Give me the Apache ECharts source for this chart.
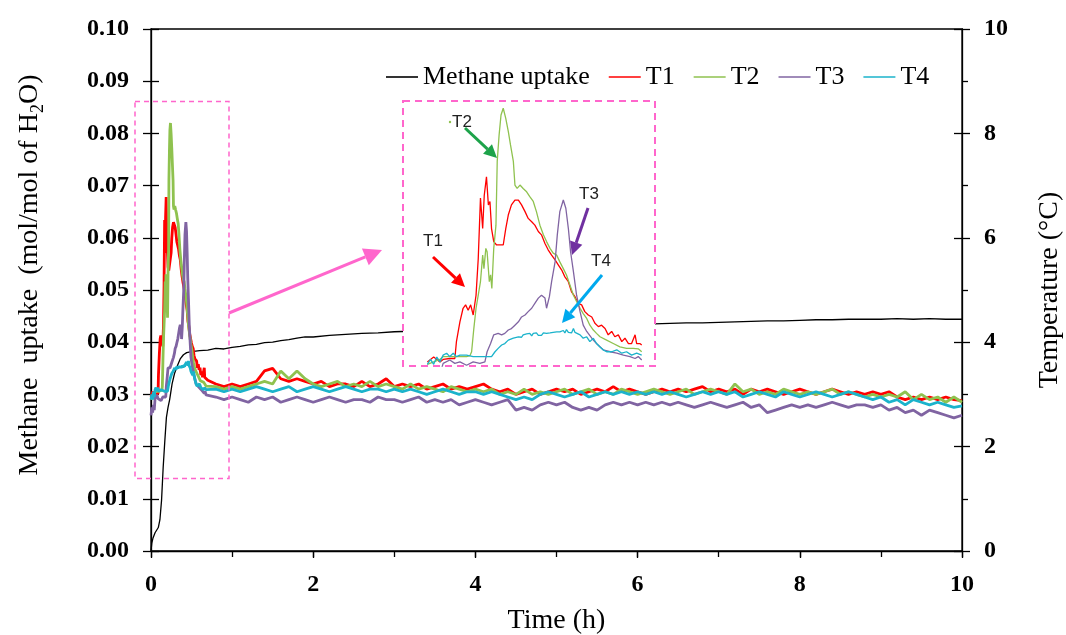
<!DOCTYPE html>
<html>
<head>
<meta charset="utf-8">
<script src="https://cdn.jsdelivr.net/npm/echarts@6/dist/echarts.min.js"></script>
<style>
  html, body { margin: 0; padding: 0; background: #fff; }
  #chart { width: 1066px; height: 635px; }
</style>
</head>
<body>
<div id="chart"></div>
<script>
// methane uptake (left axis, mol/mol of H2O)
const uptakeTime = [0,0.01,0.025,0.05,0.09,0.11,0.13,0.15,0.17,0.19,0.21,0.23,0.26,0.29,0.32,0.36,0.40,0.44,0.5,0.6,
  0.7,0.8,0.9,1.0,1.1,1.2,1.3,1.4,1.5,1.6,1.7,1.8,1.9,2.0,2.2,2.4,2.6,2.8,3.0,3.2,3.6,4.0,4.5,5.0,5.5,
  6.0,6.2,6.4,6.6,6.8,7.0,7.2,7.4,7.6,7.8,8.0,8.2,8.4,8.6,8.8,9.0,9.2,9.4,9.6,9.8,10.0]
const uptake = [0,0.0015,0.0025,0.0035,0.0045,0.006,0.0097,0.016,0.021,0.0256,0.0275,0.029,0.032,0.034,0.0353,0.0368,0.0376,0.038,0.0382,0.0384,
  0.0385,0.0388,0.0387,0.039,0.0392,0.0395,0.0396,0.0399,0.04,0.0403,0.0405,0.0408,0.041,0.041,0.0413,0.0415,0.0417,0.0418,0.042,0.0421,0.0425,0.0428,0.043,0.0432,0.0433,
  0.0435,0.0435,0.0436,0.0437,0.0437,0.0438,0.0439,0.044,0.0441,0.0441,0.0442,0.0443,0.0443,0.0444,0.0444,0.0444,0.0445,0.0444,0.0445,0.0444,0.0444]

// first 0.68 h of the temperatures, [time h, °C] (also drawn in the inset)
const t1Early = [[0,2.95],[0.02,3.05],[0.04,2.95],[0.05,3.0],[0.071,3.02],[0.087,3.02],[0.092,3.37],[0.103,3.78],[0.113,4.06],[0.121,4.13],
  [0.129,4.02],[0.137,4.13],[0.145,3.92],[0.154,4.33],[0.161,5.09],[0.168,6.34],[0.175,5.71],[0.180,6.40],[0.187,6.78],[0.193,6.20],
  [0.198,6.27],[0.203,5.71],[0.210,5.44],[0.219,5.37],[0.229,5.37],[0.240,5.37],[0.248,5.71],[0.256,5.99],[0.266,6.20],[0.277,6.30],
  [0.288,6.30],[0.298,6.20],[0.309,6.06],[0.319,5.92],[0.330,5.85],[0.340,5.78],[0.351,5.65],[0.361,5.58],[0.372,5.40],[0.382,5.27],
  [0.393,5.16],[0.404,5.06],[0.414,4.96],[0.425,4.85],[0.435,4.71],[0.446,4.61],[0.456,4.40],[0.467,4.30],[0.477,4.16],[0.488,4.13],
  [0.498,3.99],[0.509,3.92],[0.520,3.88],[0.530,3.75],[0.541,3.68],[0.551,3.71],[0.562,3.64],[0.572,3.51],[0.583,3.58],[0.593,3.47],
  [0.604,3.51],[0.615,3.37],[0.625,3.44],[0.636,3.33],[0.646,3.33],[0.657,3.51],[0.662,3.33],[0.672,3.33],[0.678,3.30]]
const t2Early = [[0,2.9],[0.02,2.95],[0.04,3.0],[0.05,3.06],[0.10,3.06],[0.124,3.06],[0.135,3.08],[0.140,3.16],[0.147,3.64],[0.154,4.06],
  [0.161,4.33],[0.168,4.61],[0.175,5.16],[0.179,4.88],[0.185,5.30],[0.189,5.23],[0.196,4.61],[0.200,4.75],[0.204,4.47],[0.210,5.30],
  [0.217,5.78],[0.221,7.10],[0.227,7.65],[0.233,8.06],[0.240,8.20],[0.248,7.99],[0.256,7.72],[0.263,7.44],[0.272,7.10],[0.277,6.61],
  [0.284,6.54],[0.293,6.61],[0.303,6.54],[0.314,6.47],[0.324,6.37],[0.335,6.27],[0.345,6.06],[0.356,5.78],[0.367,5.58],[0.377,5.44],
  [0.388,5.30],[0.398,5.20],[0.409,5.16],[0.419,5.02],[0.430,4.88],[0.440,4.75],[0.451,4.54],[0.462,4.33],[0.472,4.20],[0.483,4.06],
  [0.493,3.95],[0.504,3.85],[0.514,3.71],[0.525,3.61],[0.535,3.54],[0.546,3.47],[0.567,3.40],[0.588,3.33],[0.609,3.26],[0.630,3.23],
  [0.651,3.23],[0.667,3.22],[0.678,3.16]]
const t3Early = [[0,2.6],[0.01,2.75],[0.02,2.65],[0.03,2.8],[0.04,2.7],[0.05,2.92],[0.071,2.99],[0.087,2.92],[0.103,2.95],[0.124,2.88],
  [0.145,2.95],[0.166,2.92],[0.182,2.95],[0.189,3.16],[0.200,3.33],[0.210,3.51],[0.224,3.54],[0.235,3.51],[0.245,3.54],[0.256,3.61],
  [0.266,3.64],[0.277,3.71],[0.288,3.78],[0.298,3.88],[0.309,3.92],[0.319,3.99],[0.330,4.06],[0.340,4.16],[0.351,4.27],[0.361,4.33],
  [0.372,4.27],[0.377,4.06],[0.386,4.30],[0.393,4.61],[0.404,5.02],[0.411,5.58],[0.419,6.06],[0.430,6.30],[0.438,6.13],[0.446,5.71],
  [0.453,5.23],[0.462,4.82],[0.472,4.33],[0.483,3.99],[0.493,3.71],[0.504,3.58],[0.520,3.44],[0.535,3.33],[0.556,3.20],[0.578,3.16],
  [0.599,3.13],[0.620,3.09],[0.641,3.06],[0.657,3.02],[0.667,3.06],[0.678,2.99]]
const t4Early = [[0,2.9],[0.01,3.0],[0.02,2.9],[0.03,3.05],[0.04,2.95],[0.05,3.09],[0.061,3.13],[0.071,3.06],[0.082,3.13],[0.092,3.06],
  [0.103,3.09],[0.124,3.09],[0.145,3.06],[0.166,3.06],[0.187,3.06],[0.203,3.06],[0.214,3.16],[0.224,3.23],[0.235,3.30],[0.245,3.33],
  [0.256,3.40],[0.272,3.44],[0.288,3.47],[0.293,3.51],[0.298,3.46],[0.303,3.51],[0.309,3.47],[0.314,3.53],[0.319,3.49],[0.324,3.54],
  [0.330,3.49],[0.335,3.54],[0.340,3.50],[0.345,3.55],[0.351,3.50],[0.356,3.54],[0.361,3.50],[0.367,3.55],[0.372,3.51],[0.377,3.54],
  [0.382,3.50],[0.388,3.55],[0.393,3.51],[0.398,3.56],[0.404,3.52],[0.409,3.57],[0.414,3.53],[0.419,3.57],[0.425,3.54],[0.430,3.60],
  [0.435,3.55],[0.440,3.62],[0.446,3.56],[0.451,3.60],[0.456,3.55],[0.462,3.64],[0.467,3.56],[0.472,3.58],[0.483,3.51],[0.493,3.44],
  [0.504,3.47],[0.514,3.37],[0.525,3.44],[0.535,3.33],[0.546,3.26],[0.556,3.20],[0.567,3.16],[0.583,3.16],[0.599,3.20],[0.615,3.13],
  [0.630,3.16],[0.646,3.09],[0.662,3.13],[0.678,3.09]]

// rest of the run, one reading every 0.1 h
const tailTime = [0.7,0.8,0.9,
  1.0,1.1,1.2,1.3,1.4,1.5,1.6,1.7,1.8,1.9,
  2.0,2.1,2.2,2.3,2.4,2.5,2.6,2.7,2.8,2.9,
  3.0,3.1,3.2,3.3,3.4,3.5,3.6,3.7,3.8,3.9,
  4.0,4.1,4.2,4.3,4.4,4.5,4.6,4.7,4.8,4.9,
  5.0,5.1,5.2,5.3,5.4,5.5,5.6,5.7,5.8,5.9,
  6.0,6.1,6.2,6.3,6.4,6.5,6.6,6.7,6.8,6.9,
  7.0,7.1,7.2,7.3,7.4,7.5,7.6,7.7,7.8,7.9,
  8.0,8.1,8.2,8.3,8.4,8.5,8.6,8.7,8.8,8.9,
  9.0,9.1,9.2,9.3,9.4,9.5,9.6,9.7,9.8,9.9,
  10.0]
const t1Tail = [3.27,3.2,3.15,
  3.2,3.15,3.2,3.25,3.45,3.5,3.3,3.25,3.3,3.25,
  3.2,3.25,3.15,3.2,3.2,3.15,3.25,3.15,3.2,3.3,
  3.15,3.2,3.15,3.2,3.1,3.15,3.2,3.1,3.15,3.1,
  3.15,3.2,3.1,3.05,3.1,3.0,3.05,3.1,3.0,3.05,
  3.1,3.05,3.1,3.0,3.05,3.1,3.05,3.15,3.05,3.1,
  3.05,3.0,3.05,3.1,3.05,3.1,3.05,3.1,3.15,3.05,
  3.1,3.05,3.1,3.0,3.1,3.05,3.1,3.05,3.0,3.05,
  3.1,3.05,3.0,3.05,3.1,3.05,3.0,3.05,3.0,3.05,
  3.0,3.05,2.95,2.9,2.95,2.9,2.95,2.9,2.95,2.9,
  2.88]
const t2Tail = [3.16,3.15,3.1,
  3.15,3.1,3.15,3.2,3.25,3.2,3.45,3.3,3.45,3.3,
  3.2,3.15,3.2,3.25,3.15,3.2,3.15,3.25,3.15,3.2,
  3.15,3.1,3.2,3.1,3.15,3.1,3.05,3.15,3.1,3.05,
  3.1,3.05,3.1,3.0,3.05,3.0,3.1,3.0,3.05,3.0,
  3.05,3.1,3.0,3.05,3.1,3.0,3.05,3.0,3.1,3.05,
  3.0,3.05,3.1,3.05,3.0,3.05,3.1,3.0,3.05,3.1,
  3.05,3.0,3.2,3.05,3.1,3.0,3.05,3.0,3.1,3.05,
  3.0,3.05,3.0,3.05,3.1,3.0,3.05,3.0,2.95,3.0,
  2.95,3.0,2.95,3.05,2.9,3.0,2.9,2.95,2.85,2.95,
  2.85]
const t3Tail = [2.99,2.95,2.9,
  2.95,2.9,2.85,2.95,2.9,2.95,2.85,2.9,2.95,2.9,
  2.85,2.9,2.95,2.9,2.85,2.9,2.9,2.85,2.95,2.9,
  2.9,2.85,2.9,2.95,2.85,2.9,2.85,2.9,2.8,2.85,
  2.9,2.85,2.8,2.85,2.9,2.7,2.75,2.7,2.8,2.85,
  2.8,2.85,2.75,2.7,2.75,2.7,2.8,2.85,2.8,2.85,
  2.8,2.85,2.8,2.85,2.8,2.85,2.8,2.75,2.8,2.85,
  2.8,2.75,2.8,2.85,2.75,2.8,2.65,2.7,2.75,2.8,
  2.75,2.8,2.75,2.8,2.85,2.8,2.75,2.8,2.8,2.75,
  2.8,2.7,2.75,2.65,2.7,2.6,2.7,2.65,2.6,2.55,
  2.6]
const t4Tail = [3.09,3.1,3.05,
  3.1,3.05,3.1,3.15,3.1,3.05,3.1,3.15,3.05,3.1,
  3.15,3.1,3.05,3.1,3.15,3.1,3.05,3.1,3.1,3.05,
  3.1,3.05,3.1,3.05,3.0,3.05,3.1,3.05,3.0,3.05,
  3.05,3.0,3.05,3.0,2.95,2.9,2.95,2.9,3.0,3.05,
  3.0,2.95,3.0,3.05,2.95,3.0,3.05,3.0,3.05,3.0,
  3.05,3.0,3.05,3.0,3.05,3.0,2.95,3.0,3.05,3.0,
  3.05,3.0,3.05,2.95,3.0,3.05,3.0,2.95,3.05,3.0,
  2.95,3.0,3.05,3.0,2.95,3.0,3.05,3.0,2.95,2.9,
  2.95,2.85,2.9,2.8,2.9,2.85,2.8,2.85,2.8,2.75,
  2.78]

const names = ['Methane uptake', 'T1', 'T2', 'T3', 'T4']
const colors = ['#000000', '#FF0000', '#8FC24F', '#8064A2', '#1BB3CB']
const serif = '"Liberation Serif", "Times New Roman", serif'
const sans = '"Liberation Sans", Arial, sans-serif'
const pink = '#FF66CC'

const joinTail = (early, tail) => early.concat(tailTime.map((t, i) => [t, tail[i]]))
const temps = [
  joinTail(t1Early, t1Tail),
  joinTail(t2Early, t2Tail),
  joinTail(t3Early, t3Tail),
  joinTail(t4Early, t4Tail),
]
const earlies = [t1Early, t2Early, t3Early, t4Early]

const arrow = (x1, y1, x2, y2, color, w, head) => {
  const a = Math.atan2(y2 - y1, x2 - x1)
  const hw = head * 0.5
  const bx = x2 - head * Math.cos(a)
  const by = y2 - head * Math.sin(a)
  const px = -Math.sin(a) * hw
  const py = Math.cos(a) * hw
  return [
    { type: 'line', z: 20, shape: { x1, y1, x2: bx, y2: by }, style: { stroke: color, lineWidth: w } },
    { type: 'polygon', z: 20, shape: { points: [[x2, y2], [bx + px, by + py], [bx - px, by - py]] }, style: { fill: color } },
  ]
}
const note = (text, x, y) => ({
  type: 'text', z: 20, x, y,
  style: { text, font: '17px ' + sans, fill: '#222', align: 'center', verticalAlign: 'middle' },
})

const chart = echarts.init(document.getElementById('chart'))

const axisBlack = { lineStyle: { color: '#000', width: 1.3 } }
const tickLabel = { fontFamily: serif, fontWeight: 'bold', fontSize: 24, color: '#000' }
const nameStyle = { fontFamily: serif, fontSize: 28, color: '#000' }

chart.setOption({
  animation: false,
  grid: [
    { left: 151, top: 29, right: 104, bottom: 84, outerBoundsMode: 'none',
      show: true, borderColor: '#000', borderWidth: 1.3 },
    { left: 403, top: 101, width: 252, height: 265, outerBoundsMode: 'none' },
  ],
  legend: {
    data: names,
    icon: 'rect',
    left: 386,
    top: 64,
    padding: 0,
    itemWidth: 32,
    itemHeight: 1.6,
    itemGap: 19,
    textStyle: { fontFamily: serif, fontSize: 26, color: '#000' },
  },
  xAxis: [
    {
      type: 'value', gridIndex: 0, min: 0, max: 10, interval: 2,
      name: 'Time (h)', nameLocation: 'middle', nameGap: 56, nameTextStyle: nameStyle,
      axisLine: axisBlack,
      axisTick: { length: 7, lineStyle: { color: '#000', width: 1.3 } },
      axisLabel: { ...tickLabel, margin: 22 },
      splitLine: { show: false },
    },
    {
      type: 'value', gridIndex: 0, min: 0, max: 10, interval: 1,
      axisLine: { show: false },
      axisTick: { inside: true, length: 6, lineStyle: { color: '#000', width: 1.3 } },
      axisLabel: { show: false },
      splitLine: { show: false },
    },
    { type: 'value', gridIndex: 1, min: -0.077, max: 0.72, show: false },
  ],
  yAxis: [
    {
      type: 'value', gridIndex: 0, position: 'left', min: 0, max: 0.1, interval: 0.01,
      name: '{a|Methane  uptake  (mol/mol of H}{b|2}{a|O)}',
      nameLocation: 'middle', nameGap: 104,
      nameTextStyle: {
        padding: [0, 0, 0, 30],
        rich: {
          a: { fontFamily: serif, fontSize: 28, color: '#000', lineHeight: 34, verticalAlign: 'middle' },
          b: { fontFamily: serif, fontSize: 18, color: '#000', lineHeight: 34, verticalAlign: 'bottom' },
        },
      },
      axisLine: axisBlack,
      axisTick: { length: 8, lineStyle: { color: '#000', width: 1.3 } },
      axisLabel: { ...tickLabel, margin: 22, formatter: (v) => v.toFixed(2) },
      splitLine: { show: false },
    },
    {
      type: 'value', gridIndex: 0, position: 'left', min: 0, max: 0.1, interval: 0.01,
      axisLine: { show: false },
      axisTick: { inside: true, length: 8, lineStyle: { color: '#000', width: 1.3 } },
      axisLabel: { show: false },
      splitLine: { show: false },
    },
    {
      type: 'value', gridIndex: 0, position: 'right', min: 0, max: 10, interval: 2,
      name: 'Temperature (°C)', nameLocation: 'middle', nameGap: 74, nameTextStyle: nameStyle,
      axisLine: axisBlack,
      axisTick: { length: 8, lineStyle: { color: '#000', width: 1.3 } },
      minorTick: { show: true, splitNumber: 2, length: 6, lineStyle: { color: '#000', width: 1.3 } },
      axisLabel: { ...tickLabel, margin: 22 },
      splitLine: { show: false },
    },
    {
      type: 'value', gridIndex: 0, position: 'right', min: 0, max: 10, interval: 2,
      axisLine: { show: false },
      axisTick: { inside: true, length: 8, lineStyle: { color: '#000', width: 1.3 } },
      axisLabel: { show: false },
      splitLine: { show: false },
    },
    { type: 'value', gridIndex: 1, min: 2.865, max: 8.35, show: false },
  ],
  series: [
    {
      name: names[0], type: 'line', xAxisIndex: 0, yAxisIndex: 0,
      data: uptakeTime.map((t, i) => [t, uptake[i]]),
      symbol: 'none', lineStyle: { color: colors[0], width: 1.3 }, itemStyle: { color: colors[0] },
    },
    ...temps.map((d, i) => ({
      name: names[i + 1], type: 'line', xAxisIndex: 0, yAxisIndex: 2,
      data: d, symbol: 'none',
      lineStyle: { color: colors[i + 1], width: 2.8 }, itemStyle: { color: colors[i + 1] },
    })),
    ...earlies.map((d, i) => ({
      name: names[i + 1], type: 'line', xAxisIndex: 2, yAxisIndex: 4, z: 10,
      data: d, symbol: 'none', silent: true,
      lineStyle: { color: colors[i + 1], width: 1.3 }, itemStyle: { color: colors[i + 1] },
    })),
  ],
  graphic: [
    // inset panel
    { type: 'rect', z: 5, shape: { x: 403, y: 101, width: 252, height: 265 }, style: { fill: '#fff' } },
    { type: 'rect', z: 15, shape: { x: 403, y: 101, width: 252, height: 265 },
      style: { fill: null, stroke: pink, lineWidth: 2, lineDash: [7, 5] } },
    // highlighted region on the main plot
    { type: 'rect', z: 15, shape: { x: 135, y: 101.5, width: 94, height: 377 },
      style: { fill: null, stroke: pink, lineWidth: 1.5, lineDash: [5, 4] } },
    ...arrow(229, 313, 382, 250, pink, 3, 18),
    ...arrow(433, 257, 465, 287, '#FF0000', 3, 13),
    ...arrow(465, 128, 497, 158, '#1DA34A', 3, 13),
    ...arrow(588, 208, 572, 255, '#7030A0', 3, 13),
    ...arrow(602, 275, 562, 323, '#00A9EE', 3, 13),
    note('T1', 433, 241),
    note('T2', 462, 122),
    note('T3', 589, 194),
    note('T4', 601, 261),
    { type: 'circle', z: 20, shape: { cx: 450, cy: 122, r: 1.2 }, style: { fill: '#8FC24F' } },
  ],
})
</script>
</body>
</html>
